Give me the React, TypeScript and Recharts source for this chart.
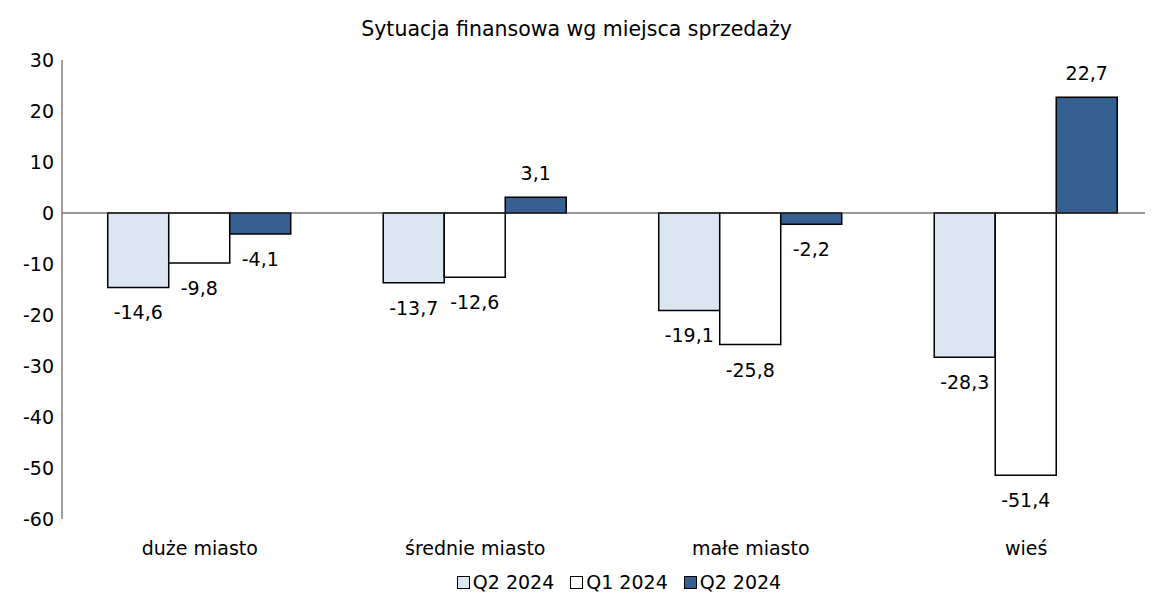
import React from 'react';
import {
  BarChart,
  Bar,
  XAxis,
  YAxis,
  ReferenceLine,
  Legend,
  LabelList
} from 'recharts';

const categories = ['duże miasto', 'średnie miasto', 'małe miasto', 'wieś'];
const q2Prev = [-14.6, -13.7, -19.1, -28.3];
const q1 = [-9.8, -12.6, -25.8, -51.4];
const q2 = [-4.1, 3.1, -2.2, 22.7];
const yTicks = [-60, -50, -40, -30, -20, -10, 0, 10, 20, 30];

const seriesNames = ['Q2 2024', 'Q1 2024', 'Q2 2024'];
const seriesColors = ['#dce6f2', '#ffffff', '#376092'];

const FONT = "Tahoma, 'DejaVu Sans', sans-serif";

const data = categories.map((c, i) => ({
  name: c,
  a: q2Prev[i],
  b: q1[i],
  c: q2[i],
}));

// label under negative bars, above positive ones
const renderLabel = (props: any) => {
  const { x, y, width, height, value } = props;
  const top = Math.min(y, y + height);
  const bottom = Math.max(y, y + height);
  const ly = value < 0 ? bottom + 25 : top - 24;
  return (
    <text
      x={x + width / 2}
      y={ly}
      textAnchor="middle"
      dominantBaseline="central"
      fontSize={19}
      fontFamily={FONT}
      fill="#000"
    >
      {Number(value).toFixed(1).replace('.', ',')}
    </text>
  );
};

const renderLegend = () => (
  <div
    style={{
      display: 'flex',
      justifyContent: 'center',
      gap: 16,
      paddingLeft: 66,
      paddingTop: 6,
      fontFamily: FONT,
      fontSize: 19,
      color: '#000',
    }}
  >
    {seriesNames.map((n, i) => (
      <div key={i} style={{ display: 'flex', alignItems: 'center' }}>
        <span
          style={{
            display: 'inline-block',
            width: 11,
            height: 11,
            background: seriesColors[i],
            border: '1px solid #000',
            marginRight: 3,
          }}
        />
        <span>{n}</span>
      </div>
    ))}
  </div>
);

const App: React.FC = () => {
  return (
    <div style={{ width: 1137, height: 595, overflow: 'hidden', position: 'relative' }}>
      <div
        style={{
          position: 'absolute',
          top: 9,
          left: 0,
          width: 1137,
          textAlign: 'center',
          fontFamily: FONT,
          fontSize: 20.5,
          color: '#000',
        }}
      >
        Sytuacja finansowa wg miejsca sprzedaży
      </div>
      <BarChart
        width={1170}
        height={595}
        data={data}
        margin={{ top: 52, right: 14, left: 0, bottom: 2 }}
        barGap={0}
        barCategoryGap="16.6%"
      >
        <XAxis
          dataKey="name"
          axisLine={false}
          tickLine={false}
          tickMargin={17}
          height={46}
          tick={{ fontSize: 19, fontFamily: FONT, fill: '#000' }}
        />
        <YAxis
          domain={[-60, 30]}
          ticks={yTicks}
          width={54}
          interval={0}
          tickLine={false}
          axisLine={{ stroke: '#808080', strokeWidth: 1.5 }}
          tick={{ fontSize: 19, fontFamily: FONT, fill: '#000' }}
        />
        <ReferenceLine y={0} stroke="#333" strokeWidth={1} />
        <Legend content={renderLegend} verticalAlign="bottom" height={36} />
        <Bar dataKey="a" fill={seriesColors[0]} stroke="#000" strokeWidth={1.5} isAnimationActive={false}>
          <LabelList dataKey="a" content={renderLabel} />
        </Bar>
        <Bar dataKey="b" fill={seriesColors[1]} stroke="#000" strokeWidth={1.5} isAnimationActive={false}>
          <LabelList dataKey="b" content={renderLabel} />
        </Bar>
        <Bar dataKey="c" fill={seriesColors[2]} stroke="#000" strokeWidth={1.5} isAnimationActive={false}>
          <LabelList dataKey="c" content={renderLabel} />
        </Bar>
      </BarChart>
    </div>
  );
};

export default App;
